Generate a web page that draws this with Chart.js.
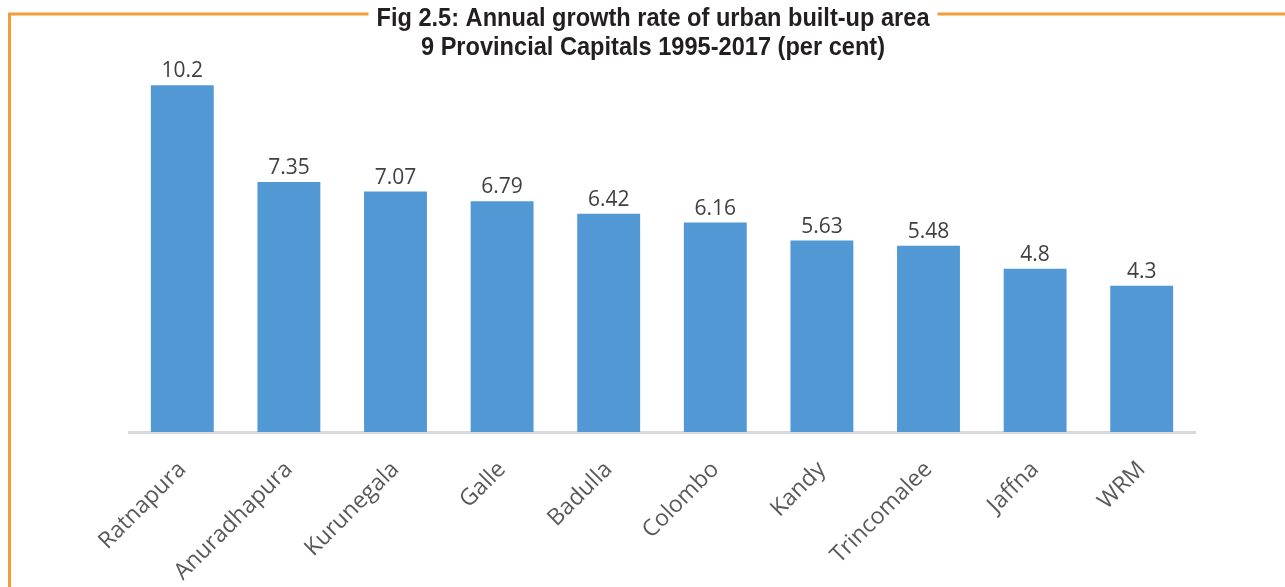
<!DOCTYPE html>
<html>
<head>
<meta charset="utf-8">
<script src="https://cdn.jsdelivr.net/npm/chart.js@4"></script>
<style>
  body { margin: 0; background: #fff; }
</style>
</head>
<body>
<canvas id="growthChart" width="1285" height="587"></canvas>
<script>
const cities = ['Ratnapura', 'Anuradhapura', 'Kurunegala', 'Galle', 'Badulla',
                'Colombo', 'Kandy', 'Trincomalee', 'Jaffna', 'WRM'];
const growthRates = [10.2, 7.35, 7.07, 6.79, 6.42, 6.16, 5.63, 5.48, 4.8, 4.3];
const titleLines = ['Fig 2.5: Annual growth rate of urban built-up area',
                    '9 Provincial Capitals 1995-2017 (per cent)'];

// value labels above each bar
const barLabels = {
    id: 'barLabels',
    afterDatasetsDraw(chart) {
        const ctx = chart.ctx;
        const meta = chart.getDatasetMeta(0);
        ctx.save();
        ctx.font = '21px "Open Sans"';
        ctx.fillStyle = '#404040';
        ctx.textAlign = 'center';
        ctx.textBaseline = 'alphabetic';
        meta.data.forEach((bar, i) => {
            ctx.fillText(String(growthRates[i]), bar.x, bar.y - 8);
        });
        ctx.restore();
    }
};

// title and the orange frame it sits in
const framedTitle = {
    id: 'framedTitle',
    afterDraw(chart) {
        const ctx = chart.ctx;
        const cx = 653;
        ctx.save();
        ctx.font = 'bold 25px "Liberation Sans Narrow", "Liberation Sans"';
        const w1 = ctx.measureText(titleLines[0]).width;
        const sx = 553 / w1;
        ctx.fillStyle = '#231f20';
        ctx.textAlign = 'center';
        ctx.textBaseline = 'alphabetic';
        [26, 55].forEach((y, i) => {
            ctx.save();
            ctx.translate(cx, y);
            ctx.scale(sx, 1);
            ctx.fillText(titleLines[i], 0, 0);
            ctx.restore();
        });
        const half = 553 / 2;
        ctx.strokeStyle = '#f29d3a';
        ctx.lineWidth = 3;
        ctx.beginPath();
        ctx.moveTo(9.5, chart.height);
        ctx.lineTo(9.5, 14);
        ctx.lineTo(cx - half - 8, 14);
        ctx.moveTo(cx + half + 8, 14);
        ctx.lineTo(chart.width, 14);
        ctx.stroke();
        ctx.restore();
    }
};

new Chart(document.getElementById('growthChart').getContext('2d'), {
    type: 'bar',
    data: {
        labels: cities,
        datasets: [{
            data: growthRates,
            backgroundColor: '#5198d4',
            borderWidth: 0,
            barPercentage: 0.59,
            categoryPercentage: 1
        }]
    },
    options: {
        responsive: false,
        animation: false,
        layout: { padding: { left: 129, right: 90, top: 24, bottom: 0 } },
        plugins: {
            legend: { display: false },
            tooltip: { enabled: false }
        },
        scales: {
            x: {
                grid: { display: false, drawTicks: false },
                border: { display: true, color: '#d9d9d9', width: 3 },
                ticks: {
                    color: '#595959',
                    font: { family: '"Open Sans"', size: 23 },
                    minRotation: 45,
                    maxRotation: 45,
                    padding: 24
                },
                afterFit: s => { s.height = 155; }
            },
            y: {
                display: false,
                min: 0,
                max: 12
            }
        }
    },
    plugins: [barLabels, framedTitle]
});
</script>
</body>
</html>
